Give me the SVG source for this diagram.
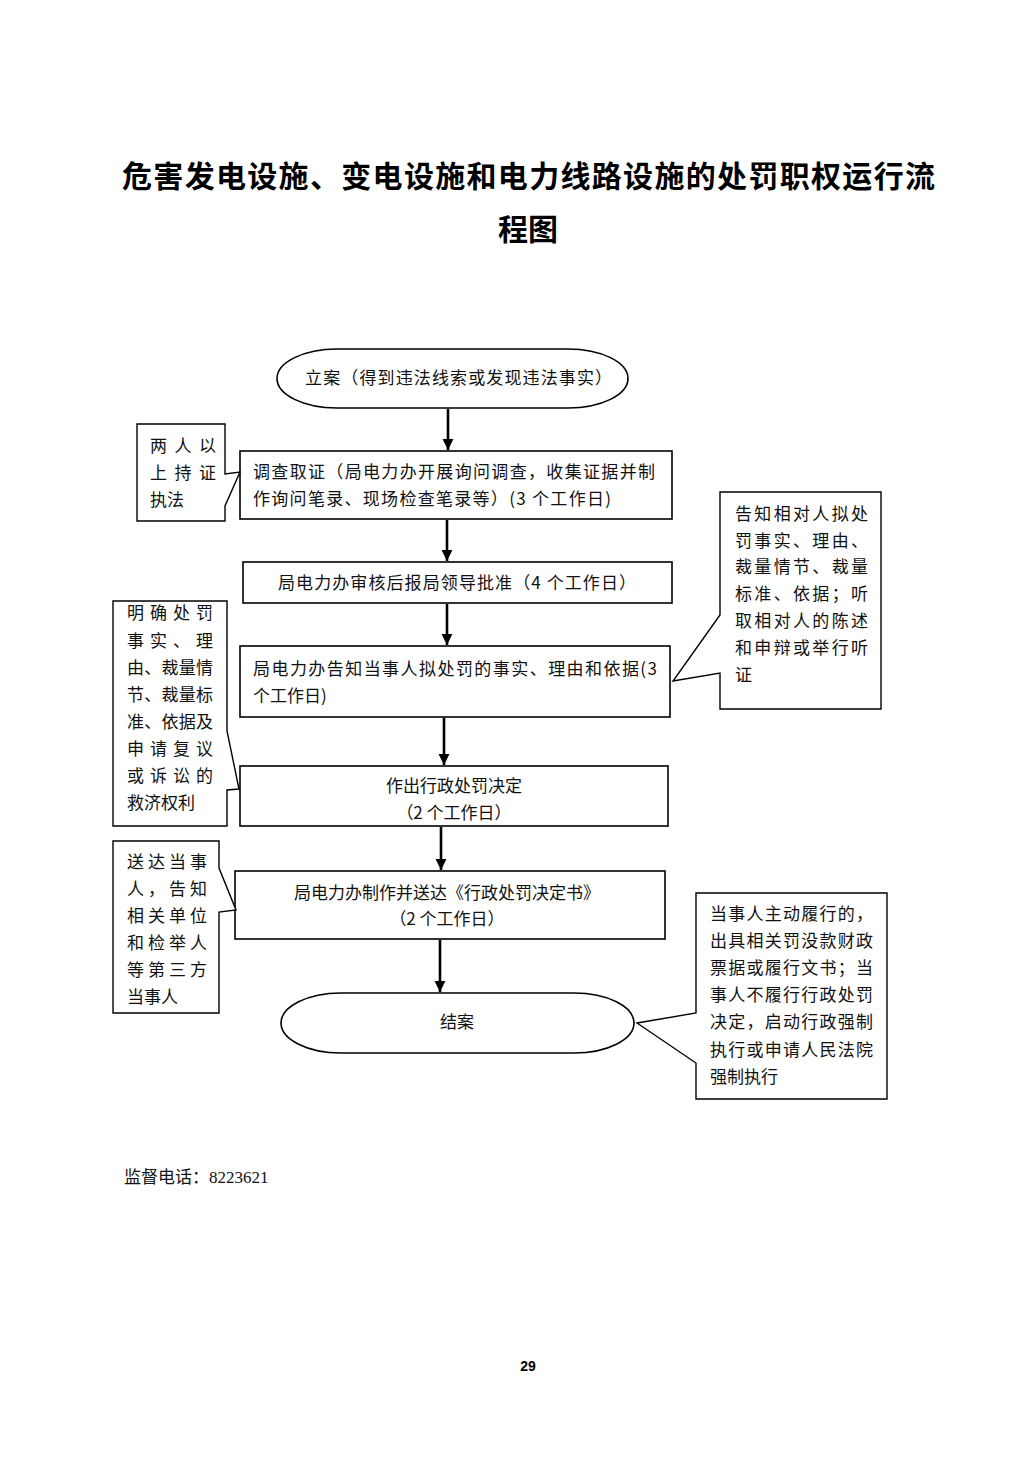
<svg xmlns="http://www.w3.org/2000/svg" width="1033" height="1461" viewBox="0 0 1033 1461">
<style>
.bg{fill:#fff}
.box{fill:#fff;stroke:#000;stroke-width:1.6}
.co{fill:#fff;stroke:#000;stroke-width:1.4;stroke-linejoin:miter}
.t{font-family:"Noto Sans CJK SC","Liberation Sans",sans-serif;font-size:17px;fill:#111}
.c{text-anchor:middle}
.title{font-family:"Noto Sans CJK SC","Liberation Sans",sans-serif;font-size:30px;font-weight:700;fill:#000}
.arr{stroke:#000;stroke-width:2.6;fill:none;marker-end:url(#ah)}
</style>
<defs>
<marker id="ah" viewBox="0 0 10 10" refX="10" refY="5" markerWidth="4.2" markerHeight="4.6" orient="auto" markerUnits="strokeWidth">
<path d="M0,0 L10,5 L0,10 Z" fill="#000"/>
</marker>
</defs>
<rect class="bg" x="0" y="0" width="1033" height="1461"/>

<g id="title">
<text class="title" x="122" y="187" textLength="813" lengthAdjust="spacing">危害发电设施、变电设施和电力线路设施的处罚职权运行流</text>
<text class="title c" x="528" y="240">程图</text>
</g>

<g id="connectors">
<line class="arr" x1="448" y1="409" x2="448" y2="450"/>
<line class="arr" x1="447" y1="520" x2="447" y2="561"/>
<line class="arr" x1="447" y1="604" x2="447" y2="645"/>
<line class="arr" x1="444" y1="718" x2="444" y2="765"/>
<line class="arr" x1="441" y1="827" x2="441" y2="870"/>
<line class="arr" x1="440" y1="940" x2="440" y2="992"/>
</g>

<g id="start">
<rect class="box" x="277" y="349" width="351" height="59" rx="60" ry="29.5"/>
<text class="t" x="305" y="384" textLength="307" lengthAdjust="spacing">立案（得到违法线索或发现违法事实）</text>
</g>

<g id="step1">
<rect class="box" x="240" y="451" width="432" height="68"/>
<text class="t" x="253" y="478" textLength="402" lengthAdjust="spacing">调查取证（局电力办开展询问调查，收集证据并制</text>
<text class="t" x="253" y="505" textLength="358" lengthAdjust="spacing">作询问笔录、现场检查笔录等）(3 个工作日)</text>
</g>

<g id="note1">
<path class="co" d="M137,424 H225 V474 L240,472 L225,506 V521 H137 Z"/>
<text class="t" x="150" y="452" textLength="66" lengthAdjust="spacing">两人以</text>
<text class="t" x="150" y="479" textLength="66" lengthAdjust="spacing">上持证</text>
<text class="t" x="150" y="506">执法</text>
</g>

<g id="step2">
<rect class="box" x="243" y="562" width="429" height="41"/>
<text class="t" x="278" y="589" textLength="358" lengthAdjust="spacing">局电力办审核后报局领导批准（4 个工作日）</text>
</g>

<g id="step3">
<rect class="box" x="240" y="646" width="430" height="71"/>
<text class="t" x="253" y="675" textLength="404" lengthAdjust="spacing">局电力办告知当事人拟处罚的事实、理由和依据(3</text>
<text class="t" x="253" y="702">个工作日)</text>
</g>

<g id="note2">
<path class="co" d="M113,601 H227 V731 L239,789 L227,790 V826 H113 Z"/>
<text class="t" x="127" y="619" textLength="86" lengthAdjust="spacing">明确处罚</text>
<text class="t" x="127" y="647" textLength="86" lengthAdjust="spacing">事实、理</text>
<text class="t" x="127" y="674" textLength="86" lengthAdjust="spacing">由、裁量情</text>
<text class="t" x="127" y="701" textLength="86" lengthAdjust="spacing">节、裁量标</text>
<text class="t" x="127" y="728" textLength="86" lengthAdjust="spacing">准、依据及</text>
<text class="t" x="127" y="755" textLength="86" lengthAdjust="spacing">申请复议</text>
<text class="t" x="127" y="782" textLength="86" lengthAdjust="spacing">或诉讼的</text>
<text class="t" x="127" y="809">救济权利</text>
</g>

<g id="note3">
<path class="co" d="M720,492 H881 V709 H720 V673 L673,681 L720,615 Z"/>
<text class="t" x="735" y="520" textLength="133" lengthAdjust="spacing">告知相对人拟处</text>
<text class="t" x="735" y="547" textLength="133" lengthAdjust="spacing">罚事实、理由、</text>
<text class="t" x="735" y="573" textLength="133" lengthAdjust="spacing">裁量情节、裁量</text>
<text class="t" x="735" y="600" textLength="133" lengthAdjust="spacing">标准、依据；听</text>
<text class="t" x="735" y="627" textLength="133" lengthAdjust="spacing">取相对人的陈述</text>
<text class="t" x="735" y="654" textLength="133" lengthAdjust="spacing">和申辩或举行听</text>
<text class="t" x="735" y="681">证</text>
</g>

<g id="step4">
<rect class="box" x="240" y="766" width="428" height="60"/>
<text class="t c" x="454" y="792">作出行政处罚决定</text>
<text class="t c" x="454" y="819">（2 个工作日）</text>
</g>

<g id="step5">
<rect class="box" x="235" y="871" width="430" height="68"/>
<text class="t c" x="447" y="899">局电力办制作并送达《行政处罚决定书》</text>
<text class="t c" x="447" y="925">（2 个工作日）</text>
</g>

<g id="note4">
<path class="co" d="M113,841 H219 V868 L236,910 L219,912 V1013 H113 Z"/>
<text class="t" x="127" y="868" textLength="80" lengthAdjust="spacing">送达当事</text>
<text class="t" x="127" y="895" textLength="80" lengthAdjust="spacing">人，告知</text>
<text class="t" x="127" y="922" textLength="80" lengthAdjust="spacing">相关单位</text>
<text class="t" x="127" y="949" textLength="80" lengthAdjust="spacing">和检举人</text>
<text class="t" x="127" y="976" textLength="80" lengthAdjust="spacing">等第三方</text>
<text class="t" x="127" y="1003">当事人</text>
</g>

<g id="end">
<rect class="box" x="281" y="993" width="353" height="60" rx="60" ry="30"/>
<text class="t c" x="457" y="1028">结案</text>
</g>

<g id="note5">
<path class="co" d="M696,893 H887 V1099 H696 V1063 L637,1023 L696,1013 Z"/>
<text class="t" x="710" y="920" textLength="163" lengthAdjust="spacing">当事人主动履行的，</text>
<text class="t" x="710" y="947" textLength="163" lengthAdjust="spacing">出具相关罚没款财政</text>
<text class="t" x="710" y="974" textLength="163" lengthAdjust="spacing">票据或履行文书；当</text>
<text class="t" x="710" y="1001" textLength="163" lengthAdjust="spacing">事人不履行行政处罚</text>
<text class="t" x="710" y="1028" textLength="163" lengthAdjust="spacing">决定，启动行政强制</text>
<text class="t" x="710" y="1056" textLength="163" lengthAdjust="spacing">执行或申请人民法院</text>
<text class="t" x="710" y="1083">强制执行</text>
</g>

<g id="footer">
<text class="t" x="124" y="1183">监督电话：<tspan font-family="'Liberation Serif',serif">8223621</tspan></text>
<text x="528" y="1371" text-anchor="middle" font-family="'Liberation Sans',sans-serif" font-size="14" font-weight="700">29</text>
</g>
</svg>
